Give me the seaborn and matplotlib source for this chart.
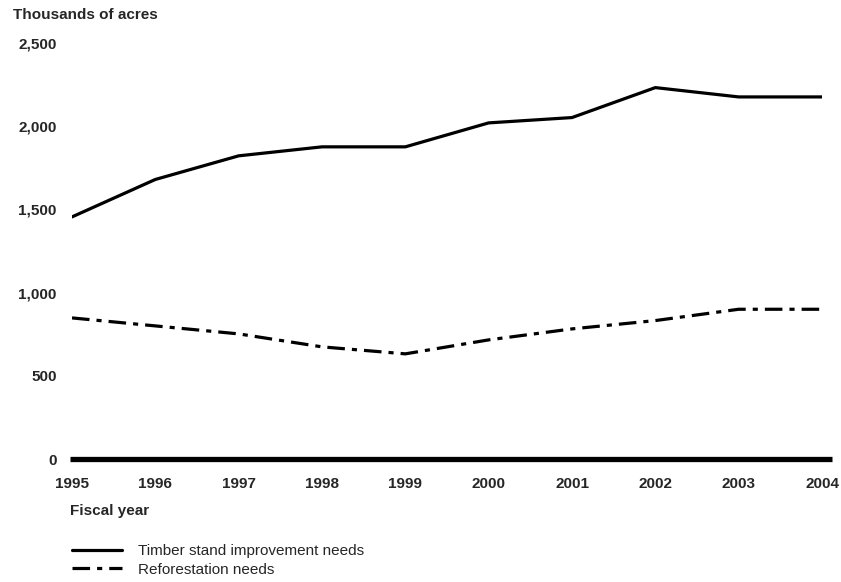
import pandas as pd
import matplotlib.pyplot as plt
import seaborn as sns

# Values (thousands of acres)
years = [1995, 1996, 1997, 1998, 1999, 2000, 2001, 2002, 2003, 2004]
timber_stand = [1455, 1680, 1822, 1876, 1876, 2020, 2052, 2232, 2176, 2176]
reforestation = [848, 800, 752, 674, 632, 716, 782, 832, 900, 900]
series_names = ["Timber stand improvement needs", "Reforestation needs"]
y_ticks = [0, 500, 1000, 1500, 2000, 2500]

df = pd.DataFrame({
    "year": years * 2,
    "acres": timber_stand + reforestation,
    "series": [series_names[0]] * len(years) + [series_names[1]] * len(years),
})

sns.set_style("white")
plt.rcParams["font.family"] = ["Liberation Sans", "DejaVu Sans"]

fig = plt.figure(figsize=(8.41, 5.82), dpi=100)
ax = fig.add_axes([72 / 841, 0.2113, 750 / 841, 0.7148])

sns.lineplot(data=df, x="year", y="acres", style="series",
             dashes={series_names[0]: "", series_names[1]: (5.5, 2.2, 1.6, 2.2)},
             color="black", linewidth=2.3, legend=False, ax=ax)

# thick zero baseline
ax.axhline(0, color="black", linewidth=3.8, solid_capstyle="butt", xmin=-0.003, xmax=1.013,
           clip_on=False)

ax.set_xlim(1995, 2004)
ax.set_ylim(0, 2500)
ax.set_xticks(years)
ax.set_xticklabels([str(y) for y in years], fontsize=11, fontweight="bold")
ax.set_yticks(y_ticks)
ax.set_yticklabels([f"{v:,}" for v in y_ticks], fontsize=11, fontweight="bold")
ax.tick_params(axis="x", length=0, pad=13)
ax.tick_params(axis="y", length=0, pad=11)
sns.despine(ax=ax, left=True, bottom=True)
ax.set_xlabel("")
ax.set_ylabel("")

fig.text(13 / 841, 1 - 15 / 582, "Thousands of acres", fontsize=11, fontweight="bold",
         ha="left", va="center")
fig.text(70 / 841, 1 - 511 / 582, "Fiscal year", fontsize=11, fontweight="bold",
         ha="left", va="center")

handles = ax.get_lines()[:2]
fig.legend(handles, series_names, loc="upper left", bbox_to_anchor=(72 / 841, 1 - 544 / 582),
           frameon=False, fontsize=11, handlelength=3.3, handletextpad=1.0,
           labelspacing=0.3, borderpad=0, borderaxespad=0)

plt.savefig("out.png", dpi=100)
